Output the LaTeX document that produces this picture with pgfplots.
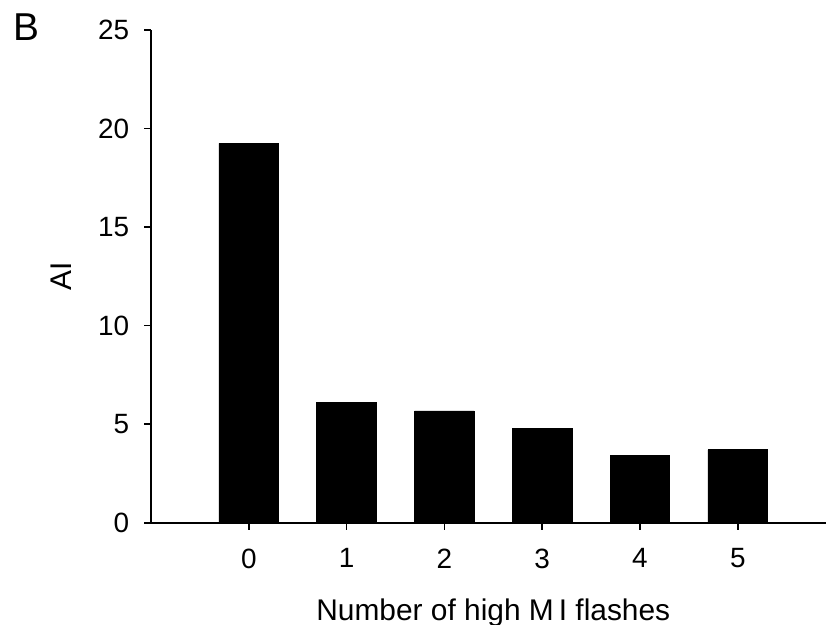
\documentclass[border=0pt]{standalone}
\usepackage{fontspec}
\setmainfont{Liberation Sans}
\usepackage{pgfplots}
\pgfplotsset{compat=1.18}
\begin{document}
\begin{tikzpicture}
\begin{axis}[
  name=ax,
  at={(0,0)}, anchor=south west,
  scale only axis,
  width=342.3bp, height=246.35bp,
  xmin=-1, xmax=6,
  ymin=0, ymax=25,
  axis lines=left,
  axis line style={-, line width=0.9bp, black},
  xtick={0,1,2,3,4,5},
  ytick={0,5,10,15,20,25},
  tick align=outside,
  major tick length=3.4bp,
  tick style={line width=0.8bp, black},
  /pgf/number format/assume math mode=true,
  ticklabel style={font=\fontsize{14}{17}\selectfont},
  yticklabel style={xshift=-4bp},
  xticklabel style={yshift=-6bp},
  xlabel={Number of high M\,I flashes},
  ylabel={AI},
  every axis x label/.style={at={(axis description cs:0.5,0)}, anchor=north, yshift=-34.6bp, font=\fontsize{15}{18}\selectfont},
  every axis y label/.style={at={(axis description cs:0,0.5)}, xshift=-45bp, anchor=center, rotate=90, font=\fontsize{15}{18}\selectfont},
  ybar,
  bar width=0.61,
]
\addplot[fill=black, draw=black, line width=0.4bp] coordinates {
  (0,19.25) (1,6.12) (2,5.67) (3,4.80) (4,3.40) (5,3.70)
};
\end{axis}
\node[font=\fontsize{19.5}{23}\selectfont, anchor=center] at ([xshift=-62.5bp,yshift=247.85bp]ax.south west) {B};
\pgfresetboundingbox
\path[use as bounding box] ([xshift=-75.5bp,yshift=-51.15bp]ax.south west) rectangle ([xshift=337.5bp,yshift=261.35bp]ax.south west);
\end{tikzpicture}
\end{document}
